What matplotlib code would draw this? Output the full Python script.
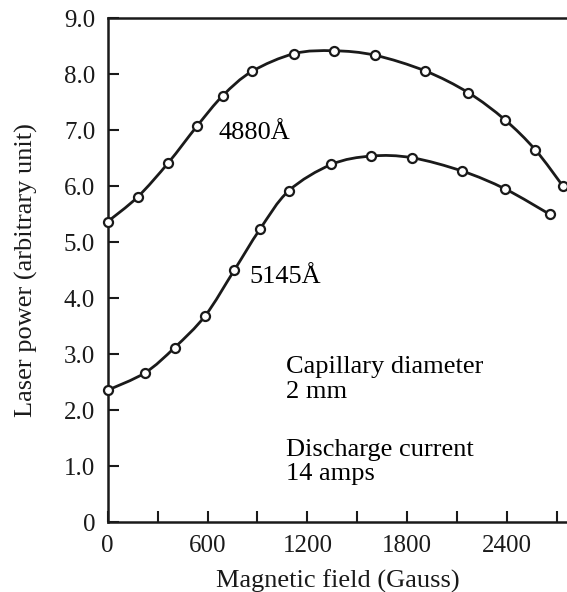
import matplotlib
matplotlib.use("Agg")
import matplotlib.pyplot as plt
from matplotlib.path import Path
from matplotlib.patches import PathPatch
import numpy as np

# Data
field_4880 = [0, 180, 364, 538, 692, 866, 1122, 1360, 1606, 1908, 2168, 2386, 2570, 2734]
power_4880 = [5.37, 5.81, 6.42, 7.08, 7.62, 8.05, 8.37, 8.42, 8.34, 8.06, 7.67, 7.19, 6.65, 6.01]

field_5145 = [0, 224, 402, 586, 760, 914, 1088, 1344, 1584, 1828, 2132, 2390, 2656]
power_5145 = [2.36, 2.67, 3.12, 3.69, 4.50, 5.23, 5.92, 6.39, 6.54, 6.51, 6.27, 5.95, 5.50]

x_major = [0, 600, 1200, 1800, 2400]
x_minor = [300, 900, 1500, 2100, 2700]
y_ticks = [0, 1, 2, 3, 4, 5, 6, 7, 8, 9]
y_labels = ["0", "1.0", "2.0", "3.0", "4.0", "5.0", "6.0", "7.0", "8.0", "9.0"]

INK = "#1a1a1a"

plt.rcParams["font.family"] = ["Liberation Serif", "DejaVu Serif"]
plt.rcParams["font.size"] = 19


def smooth_path(xs, ys):
    # Catmull-Rom through the measured points, drawn as cubic bezier segments
    p = np.column_stack([xs, ys]).astype(float)
    pts = np.vstack([p[0], p, p[-1]])
    verts = [tuple(p[0])]
    codes = [Path.MOVETO]
    for i in range(1, len(pts) - 2):
        p0, p1, p2, p3 = pts[i - 1], pts[i], pts[i + 1], pts[i + 2]
        c1 = p1 + (p2 - p0) / 6.0
        c2 = p2 - (p3 - p1) / 6.0
        verts += [tuple(c1), tuple(c2), tuple(p2)]
        codes += [Path.CURVE4] * 3
    return Path(verts, codes)


fig = plt.figure(figsize=(5.67, 5.92), dpi=100)
ax = fig.add_axes([0.19, 0.1177, 0.81, 0.8514])

for xs, ys in [(field_4880, power_4880), (field_5145, power_5145)]:
    ax.add_patch(PathPatch(smooth_path(xs, ys), fill=False, edgecolor=INK,
                           lw=2.0, clip_on=False, zorder=2))
    ax.plot(xs, ys, ls="none", marker="o", markersize=6.5, color=INK,
            markerfacecolor="white", markeredgewidth=1.6, clip_on=False, zorder=3)

ax.text(668, 6.95, "4880Å", va="center", ha="left")
ax.text(854, 4.38, "5145Å", va="center", ha="left")
ax.text(1074, 2.55, "Capillary diameter\n2 mm", va="center", ha="left",
        linespacing=1.15)
ax.text(1074, 1.08, "Discharge current\n14 amps", va="center", ha="left",
        linespacing=1.15)

ax.set_xlim(0, 2760)
ax.set_ylim(0, 9)
ax.set_xticks(x_major)
ax.set_xticks(x_minor, minor=True)
ax.set_yticks(y_ticks)
ax.set_yticklabels(y_labels)
ax.tick_params(which="both", direction="in", length=8, width=1.5, color=INK,
               labelsize=18, labelcolor=INK)
ax.tick_params(axis="y", pad=9)
ax.tick_params(axis="x", pad=9)

for s in ["left", "top", "bottom"]:
    ax.spines[s].set_linewidth(1.8)
    ax.spines[s].set_color(INK)
ax.spines["right"].set_visible(False)

ax.set_xlabel("Magnetic field (Gauss)", color=INK, labelpad=9)
ax.set_ylabel("Laser power (arbitrary unit)", color=INK)
ax.yaxis.set_label_coords(-0.152, 0.5)

fig.savefig("out.png", dpi=100)
